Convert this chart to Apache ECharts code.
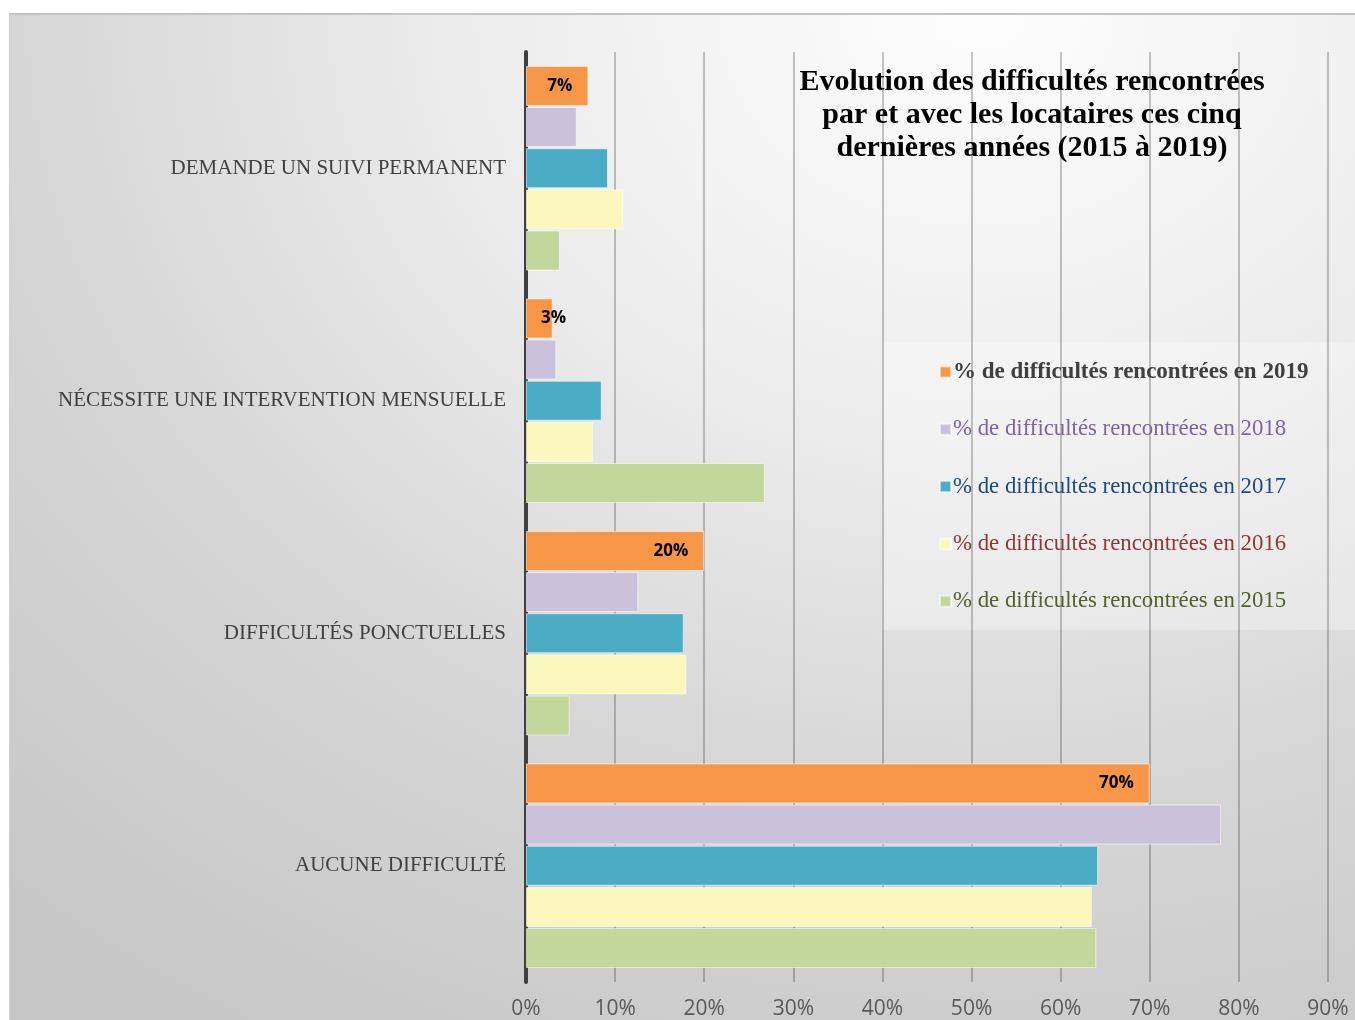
<!DOCTYPE html>
<html><head><meta charset="utf-8">
<script src="https://cdn.jsdelivr.net/npm/echarts@6/dist/echarts.min.js"></script>
<style>
html,body{margin:0;padding:0;background:#fff;}
#bg{position:absolute;left:9px;top:13px;width:1346px;height:1007px;border-top:2px solid #c4c4c4;border-left:1px solid #d0d0d0;box-sizing:border-box;
background:radial-gradient(ellipse 110% 120% at 72% 0%, #fdfdfd 0%, #ececec 35%, #d6d6d6 65%, #c6c6c6 100%);}
#c{position:absolute;left:0;top:0;width:1355px;height:1020px;}
</style></head>
<body><div id="bg"></div><div id="c"></div>
<script>
const categories = ['DEMANDE UN SUIVI PERMANENT','NÉCESSITE UNE INTERVENTION MENSUELLE','DIFFICULTÉS PONCTUELLES','AUCUNE DIFFICULTÉ'];
const seriesNames = ['% de difficultés rencontrées en 2019','% de difficultés rencontrées en 2018','% de difficultés rencontrées en 2017','% de difficultés rencontrées en 2016','% de difficultés rencontrées en 2015'];
const v2019 = [7, 3, 20, 70];
const v2018 = [5.7, 3.4, 12.6, 78];
const v2017 = [9.2, 8.5, 17.7, 64.2];
const v2016 = [10.9, 7.5, 18, 63.5];
const v2015 = [3.8, 26.8, 4.9, 64];
const xTicks = [0,10,20,30,40,50,60,70,80,90];

const colors = ['#f79646','#ccc1da','#4bacc6','#fbf8bd','#c3d69b'];
const legendColors = ['#404040','#8064a2','#1f497d','#943634','#4f6228'];
const values = [v2019, v2018, v2017, v2016, v2015];

const chart = echarts.init(document.getElementById('c'));
const series = values.map((vals, i) => ({
  name: seriesNames[i],
  type: 'bar',
  barCategoryGap: '12%',
  barGap: '3%',
  itemStyle: {color: colors[i], borderColor: 'rgba(255,255,255,0.55)', borderWidth: 1},
  data: vals.map((v, j) => {
    const d = {value: v};
    if (i === 0 && v < 5) {
      d.label = {position: 'insideLeft', distance: 15};
    }
    return d;
  }),
  label: i === 0 ? {
    show: true, position: 'insideRight', distance: 16,
    formatter: p => Math.round(p.value) + '%',
    fontFamily: 'Open Sans', fontWeight: 'bold', fontSize: 17, color: '#000'
  } : {show: false}
}));

chart.setOption({
  animation: false,
  grid: {left: 526, right: 27, top: 52, bottom: 37, containLabel: false},
  xAxis: {
    type: 'value', min: 0, max: 90, interval: 10,
    axisLine: {show: false}, axisTick: {show: false},
    splitLine: {show: true, lineStyle: {color: 'rgba(0,0,0,0.22)', width: 2}},
    axisLabel: {formatter: v => xTicks.includes(v) ? v + '%' : '', margin: 17,
      fontFamily: 'Liberation Sans Narrow, Open Sans', fontSize: 21, color: '#595959'}
  },
  yAxis: {
    type: 'category', data: categories, inverse: true,
    axisLine: {show: true, lineStyle: {color: '#404040', width: 4}},
    axisTick: {show: false},
    axisLabel: {margin: 20, fontFamily: 'Liberation Serif', fontSize: 21, color: '#404040'}
  },
  legend: {
    orient: 'vertical', left: 934, top: 355, itemGap: 33.3, itemWidth: 11, itemHeight: 11,
    icon: 'rect',
    data: seriesNames.map((n, i) => ({name: n, textStyle: {color: legendColors[i], fontWeight: i === 0 ? 'bold' : 'normal', fontSize: i === 0 ? 23 : 22.8}})),
    textStyle: {fontFamily: 'Liberation Serif', fontSize: 23, lineHeight: 24, padding: [0,0,0,-3]}
  },
  graphic: [
    {type: 'rect', shape: {x: 882, y: 342, width: 473, height: 288}, style: {fill: 'rgba(255,255,255,0.3)'}, z: -1, silent: true},
    {type: 'text', x: 1032, y: 66, style: {text: 'Evolution des difficultés rencontrées\npar et avec les locataires ces cinq\ndernières années (2015 à 2019)',
      textAlign: 'center', fill: '#000', font: 'bold 30px "Liberation Serif"', lineHeight: 33}}
  ],
  series: series
});
</script></body></html>
